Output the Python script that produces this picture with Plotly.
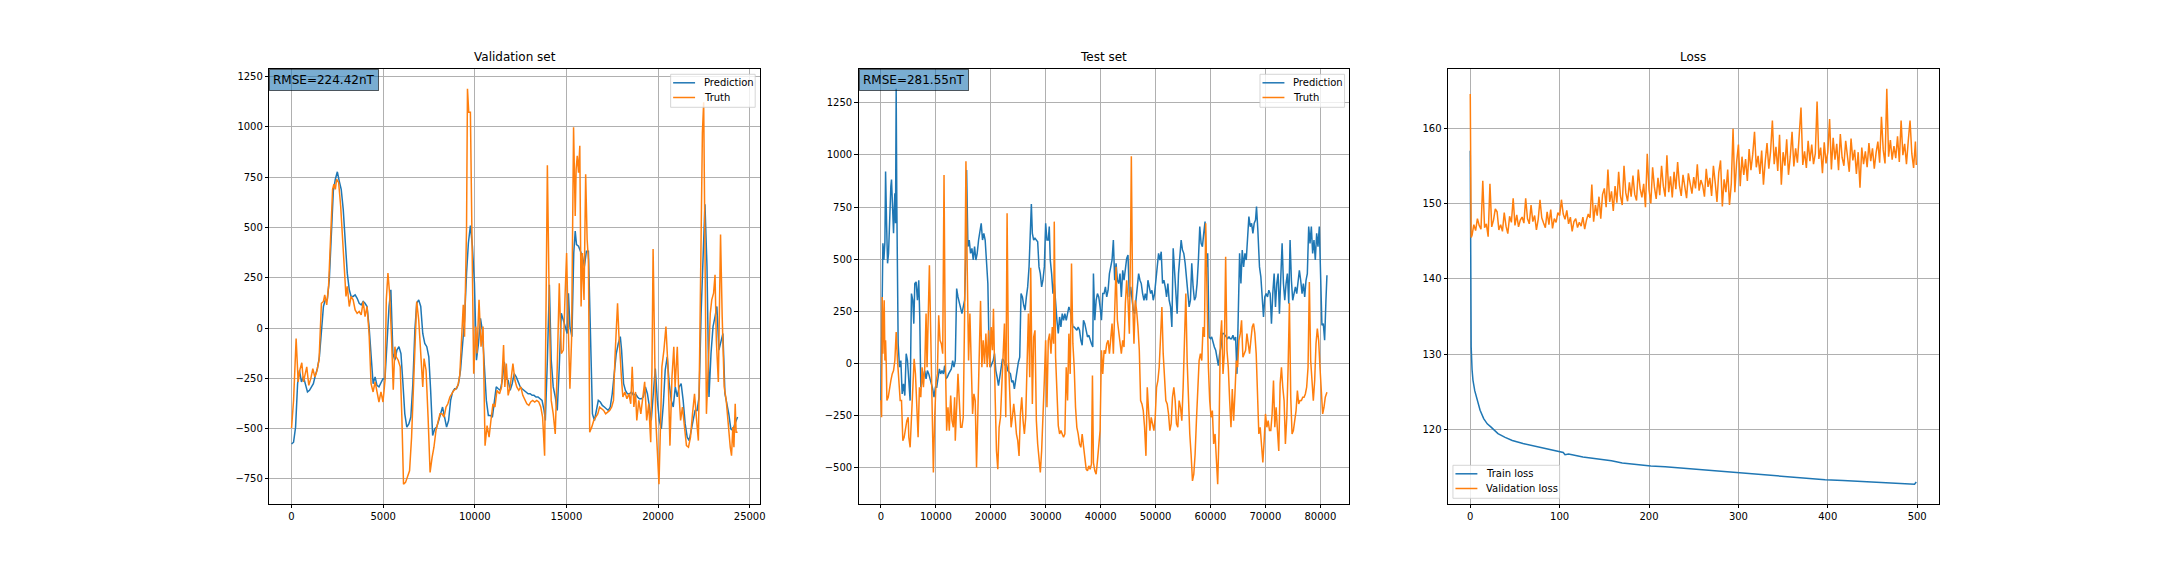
import plotly.graph_objects as go

# Validation set, (sample index, nT)
val_pred = [
    (0, -577), (110, -568), (220, -493), (330, -277), (430, -210), (540, -268), (650, -243), (760, -277), (870, -318), (980, -310),
    (1080, -293), (1190, -277), (1300, -235), (1410, -202), (1520, -143), (1630, -10), (1740, 107), (1840, 140), (1950, 140), (2060, 240),
    (2170, 507), (2280, 682), (2390, 740), (2500, 777), (2600, 732), (2710, 690), (2820, 590), (2930, 440), (3040, 273), (3150, 190),
    (3250, 157), (3360, 157), (3470, 165), (3580, 148), (3690, 123), (3800, 115), (3910, 132), (4010, 123), (4120, 107), (4230, 7),
    (4340, -160), (4450, -277), (4560, -243), (4660, -285), (4770, -293), (4880, -268), (4990, -252), (5100, -252), (5210, -43), (5320, 107),
    (5420, 190), (5530, -127), (5640, -160), (5750, -110), (5860, -93), (5970, -127), (6080, -277), (6180, -427), (6290, -493), (6400, -477),
    (6510, -443), (6620, -277), (6730, -10), (6830, 123), (6940, 140), (7050, 107), (7160, -27), (7270, -77), (7380, -93), (7490, -143),
    (7590, -310), (7700, -535), (7810, -502), (7920, -493), (8030, -460), (8140, -427), (8240, -393), (8350, -443), (8460, -493), (8570, -460),
    (8680, -360), (8790, -318), (8900, -302), (9000, -302), (9110, -277), (9220, -210), (9330, -60), (9440, 40), (9550, 273), (9650, 423),
    (9760, 510), (9870, 407), (9980, 223), (10090, -160), (10200, -77), (10310, 48), (10410, -10), (10520, -193), (10630, -360), (10740, -435),
    (10850, -435), (10960, -443), (11060, -377), (11170, -293), (11280, -302), (11390, -310), (11500, -260), (11610, -168), (11720, -252), (11820, -260),
    (11930, -310), (12040, -277), (12150, -227), (12260, -243), (12370, -268), (12480, -293), (12580, -302), (12690, -310), (12800, -318), (12910, -327),
    (13020, -327), (13130, -335), (13230, -335), (13340, -343), (13450, -343), (13560, -352), (13670, -360), (13780, -410), (13850, -460), (13960, -160),
    (14070, 215), (14170, -160), (14280, -293), (14390, -343), (14500, -410), (14610, -193), (14720, 73), (14830, 40), (14930, 7), (15040, -27),
    (15110, 173), (15190, 7), (15300, -43), (15400, 373), (15480, 482), (15550, 415), (15660, 407), (15770, 382), (15870, 357), (15980, 307),
    (16090, 382), (16200, 382), (16310, -10), (16420, -427), (16530, -460), (16630, -410), (16740, -360), (16850, -368), (16960, -385), (17070, -393),
    (17180, -402), (17280, -410), (17390, -393), (17500, -327), (17610, -227), (17720, -127), (17830, -77), (17940, -43), (18010, -110), (18120, -277),
    (18220, -310), (18330, -327), (18440, -327), (18550, -318), (18660, -335), (18770, -327), (18880, -343), (18980, -352), (19090, -352), (19200, -343),
    (19310, -293), (19420, -327), (19530, -393), (19630, -460), (19740, -327), (19850, -202), (19960, -360), (20070, -460), (20180, -502), (20290, -377),
    (20390, -210), (20500, -143), (20610, -277), (20720, -360), (20830, -393), (20940, -293), (21050, -343), (21150, -293), (21260, -277), (21370, -360),
    (21480, -477), (21590, -543), (21700, -560), (21800, -510), (21910, -460), (22020, -410), (22130, -410), (22240, -343), (22350, 73), (22460, 373),
    (22560, 615), (22670, 307), (22780, -343), (22890, -127), (23000, 7), (23110, 57), (23210, 107), (23320, -110), (23430, -60), (23540, -27),
    (23650, -327), (23760, -377), (23860, -427), (23970, -502), (24080, -510), (24190, -477), (24340, -443),
]
val_truth = [
    (0, -497), (110, -360), (250, -52), (360, -268), (450, -210), (560, -173), (650, -268), (720, -243), (830, -193), (940, -285),
    (1050, -252), (1160, -202), (1270, -243), (1370, -218), (1500, -160), (1630, 123), (1740, 132), (1810, 165), (1920, 115), (2020, 207),
    (2130, 490), (2240, 690), (2310, 715), (2390, 690), (2460, 740), (2570, 723), (2680, 607), (2780, 440), (2890, 273), (2970, 157),
    (3040, 207), (3150, 107), (3250, 157), (3360, 140), (3470, 90), (3580, 73), (3690, 82), (3800, 65), (3910, 132), (4010, 57),
    (4120, 107), (4230, -27), (4340, -277), (4450, -318), (4560, -268), (4660, -310), (4770, -368), (4880, -318), (4990, -368), (5100, -260),
    (5170, 140), (5260, 273), (5350, 173), (5460, -60), (5550, -307), (5640, -93), (5710, -143), (5820, -160), (5930, -193), (6020, -443),
    (6110, -777), (6220, -768), (6330, -743), (6440, -710), (6550, -543), (6650, -277), (6760, 40), (6830, 132), (6940, 40), (7050, -143),
    (7160, -293), (7230, -152), (7340, -210), (7450, -443), (7560, -718), (7670, -643), (7770, -593), (7880, -510), (7990, -460), (8100, -427),
    (8210, -427), (8320, -443), (8430, -393), (8530, -377), (8640, -343), (8750, -327), (8860, -310), (8970, -302), (9080, -285), (9180, -235),
    (9290, -60), (9370, 115), (9440, -43), (9550, 507), (9600, 1190), (9670, 1073), (9760, 1073), (9850, 373), (9940, -227), (10050, 7),
    (10120, -127), (10230, 140), (10340, -93), (10450, 7), (10560, -585), (10670, -485), (10780, -543), (10880, -460), (10990, -377), (11100, -393),
    (11210, -310), (11350, -327), (11460, -293), (11570, -85), (11640, -293), (11720, -177), (11820, -335), (11930, -293), (12080, -177), (12190, -260),
    (12290, -293), (12400, -310), (12510, -293), (12620, -335), (12730, -360), (12840, -377), (12950, -385), (13050, -368), (13160, -360), (13270, -368),
    (13380, -360), (13490, -368), (13600, -393), (13700, -443), (13810, -635), (13890, 140), (13960, 810), (14070, 73), (14170, -360), (14280, -427),
    (14390, -527), (14500, -193), (14610, 223), (14720, -127), (14830, -110), (14930, 173), (15010, 373), (15080, 73), (15190, -302), (15280, -60),
    (15330, 673), (15390, 998), (15480, 557), (15530, 790), (15590, 857), (15660, 773), (15730, 907), (15800, 107), (15870, 373), (15960, 140),
    (16050, 765), (16130, 440), (16200, 340), (16270, -518), (16380, -493), (16490, -460), (16600, -443), (16710, -427), (16810, -393), (16920, -402),
    (17030, -410), (17140, -427), (17250, -418), (17360, -410), (17470, -393), (17570, -360), (17650, -143), (17720, 23), (17790, 123), (17860, -27),
    (17940, -193), (18010, -260), (18080, -343), (18190, -318), (18300, -352), (18410, -327), (18510, -377), (18590, -193), (18680, -393), (18770, -318),
    (18840, -460), (18950, -360), (19060, -427), (19160, -360), (19270, -268), (19380, -460), (19490, -377), (19600, -568), (19670, -193), (19730, 393),
    (19800, -27), (19870, -443), (19960, -610), (20050, -777), (20140, -460), (20210, -193), (20320, -110), (20430, 7), (20540, -193), (20650, -585),
    (20760, -243), (20860, -93), (20930, -293), (21050, -93), (21120, -293), (21230, -460), (21330, -393), (21440, -493), (21550, -585), (21660, -593),
    (21770, -543), (21880, -427), (21990, -327), (22090, -443), (22200, -560), (22270, -127), (22350, 473), (22420, 973), (22490, 1123), (22560, 473),
    (22640, -427), (22740, -193), (22850, 73), (22930, 140), (23030, 173), (23110, 265), (23180, -60), (23290, -268), (23340, -27), (23410, 465),
    (23500, 57), (23610, -293), (23720, -360), (23830, -493), (23940, -593), (24010, -635), (24080, -493), (24140, -593), (24210, -377), (24260, -518),
    (24340, -518),
]

# Test set, (sample index, nT)
test_pred = [
    (0, -178), (120, -2), (240, 319), (360, 576), (540, 496), (730, 584), (850, 920), (1030, 672), (1210, 480), (1390, 528),
    (1570, 720), (1690, 752), (1810, 850), (1930, 882), (2120, 752), (2300, 624), (2420, 736), (2540, 816), (2660, 672), (2780, 1317),
    (2900, 752), (3020, 144), (3140, 96), (3390, -18), (3630, 14), (3870, -146), (4110, -98), (4350, -154), (4600, 47), (4840, 14),
    (5080, -98), (5320, -178), (5560, 335), (5800, 303), (5990, 191), (6170, 383), (6410, 391), (6650, 303), (6890, 399), (7070, 223),
    (7260, -114), (7500, -82), (7740, -58), (7980, -34), (8220, -74), (8460, -34), (8710, -50), (8950, -74), (9190, -90), (9430, -122),
    (9670, -162), (9920, -114), (10160, -114), (10400, -66), (10640, -26), (10880, -50), (11120, -34), (11370, -50), (11610, -10), (11850, -74),
    (12090, -66), (12330, -50), (12580, -34), (12820, -26), (13060, 14), (13300, -18), (13540, 14), (13790, 359), (14030, 319), (14270, 287),
    (14510, 271), (14750, 239), (14990, 271), (15240, 303), (15480, 528), (15600, 928), (15840, 560), (16080, 592), (16320, 528), (16570, 552),
    (16810, 496), (17050, 560), (17290, 496), (17530, 528), (17780, 592), (18020, 640), (18260, 672), (18500, 592), (18740, 624), (18980, 592),
    (19230, 496), (19470, 383), (19710, 47), (19950, -18), (20190, -2), (20440, 14), (20680, 47), (20920, -34), (21160, -66), (21400, -106),
    (21640, -66), (21890, -18), (22130, 22), (22370, 14), (22610, -10), (22850, -2), (23100, -34), (23340, -42), (23580, -50), (23820, -90),
    (24060, -82), (24300, -122), (24550, -66), (24790, -34), (25030, 6), (25270, 30), (25510, 335), (25760, 319), (26000, 279), (26240, 255),
    (26480, 319), (26720, 367), (26970, 463), (27210, 704), (27390, 765), (27570, 624), (27810, 592), (28050, 600), (28300, 592), (28540, 584),
    (28780, 463), (29020, 431), (29260, 367), (29500, 399), (29750, 463), (29990, 672), (30230, 592), (30470, 592), (30650, 656), (30830, 496),
    (31080, 431), (31320, 335), (31560, 383), (31800, 271), (32040, 207), (32290, 144), (32530, 223), (32770, 175), (33010, 239), (33250, 207),
    (33490, 239), (33740, 207), (33980, 239), (34220, 271), (34460, 255), (34700, 207), (34950, 175), (35190, 175), (35430, 167), (35670, 159),
    (35910, 175), (36160, 159), (36400, 111), (36640, 87), (36880, 207), (37120, 191), (37370, 159), (37610, 127), (37850, 135), (38090, 111),
    (38330, 95), (38570, 79), (38690, 431), (38940, 207), (39180, 303), (39420, 335), (39660, 319), (39900, 271), (40150, 207), (40390, 335),
    (40630, 335), (40870, 367), (41110, 319), (41360, 351), (41600, 431), (41840, 463), (42080, 496), (42320, 592), (42560, 399), (42810, 480),
    (43050, 399), (43290, 383), (43530, 431), (43770, 319), (44020, 447), (44260, 399), (44500, 463), (44740, 504), (44980, 520), (45230, 319),
    (45470, 367), (45710, 303), (45950, 255), (46190, 239), (46430, 303), (46680, 399), (46920, 431), (47160, 399), (47400, 383), (47640, 335),
    (47890, 303), (48130, 335), (48370, 303), (48610, 399), (48850, 367), (49100, 335), (49340, 351), (49580, 303), (49820, 335), (50060, 399),
    (50310, 431), (50550, 528), (50790, 496), (51030, 536), (51270, 383), (51520, 399), (51760, 367), (52000, 319), (52240, 383), (52480, 303),
    (52730, 271), (52970, 175), (53210, 552), (53450, 431), (53690, 303), (53930, 239), (54180, 431), (54420, 496), (54660, 592), (54900, 544),
    (55140, 528), (55390, 480), (55630, 399), (55870, 319), (56110, 271), (56350, 303), (56590, 480), (56840, 367), (57080, 303), (57320, 319),
    (57560, 383), (57800, 496), (58050, 656), (58290, 576), (58530, 560), (58770, 624), (59010, 680), (59250, 463), (59490, 528), (59740, 127),
    (59980, 119), (60220, 127), (60460, 95), (60700, 79), (60950, 63), (61190, 30), (61430, -10), (61670, 47), (61910, 79), (62160, 144),
    (62400, 144), (62640, 135), (62880, 127), (63120, 119), (63370, 127), (63610, 119), (63850, 119), (64090, 135), (64330, 111), (64570, 127),
    (64820, -50), (65060, 303), (65300, 528), (65540, 383), (65780, 544), (66030, 463), (66270, 528), (66510, 496), (66750, 624), (66990, 704),
    (67240, 656), (67480, 672), (67720, 624), (67960, 672), (68200, 688), (68380, 752), (68620, 640), (68920, 463), (69170, 415), (69410, 335),
    (69650, 223), (69890, 319), (70130, 335), (70380, 319), (70620, 351), (70860, 335), (71100, 191), (71340, 335), (71590, 431), (71830, 271),
    (72070, 383), (72310, 431), (72550, 239), (72800, 415), (73040, 576), (73280, 383), (73520, 303), (73760, 383), (74000, 431), (74250, 287),
    (74490, 592), (74730, 399), (74970, 303), (75210, 335), (75460, 367), (75700, 335), (75940, 399), (76180, 447), (76420, 399), (76670, 335),
    (76910, 383), (77150, 319), (77390, 399), (77630, 431), (77880, 656), (78120, 576), (78360, 656), (78600, 528), (78840, 592), (79080, 496),
    (79330, 624), (79570, 560), (79810, 656), (80050, 335), (80290, 183), (80540, 191), (80780, 111), (81020, 303), (81200, 423),
]
test_truth = [
    (0, -178), (120, -258), (240, 319), (360, 47), (480, 175), (600, 303), (730, 14), (850, 111), (970, -2), (1090, -178),
    (1330, -162), (1570, -114), (1810, -82), (2060, -50), (2300, -34), (2540, 14), (2780, 151), (3020, 14), (3260, -114), (3510, -178),
    (3750, -178), (3990, -370), (4230, -354), (4470, -306), (4720, -274), (4960, -258), (5080, -354), (5320, -402), (5560, -242), (5800, -82),
    (6050, 22), (6290, -50), (6530, -178), (6770, -354), (7010, -114), (7260, -162), (7500, -18), (7740, -114), (7980, -18), (8220, 239),
    (8400, -18), (8650, 231), (8830, 471), (9070, 143), (9310, -242), (9550, -523), (9790, -258), (10040, -90), (10280, -50), (10520, 231),
    (10760, 111), (11000, 95), (11250, 47), (11490, 904), (11730, 30), (11970, -322), (12210, -210), (12450, -322), (12700, -154), (12940, -274),
    (13180, -306), (13420, -162), (13540, -370), (13790, -194), (14030, -50), (14270, -178), (14510, -306), (14750, -306), (14990, -258), (15240, 239),
    (15480, 969), (15720, 447), (15960, 14), (16200, 239), (16450, -2), (16690, -242), (16930, -146), (17170, -178), (17410, -499), (17660, -210),
    (17900, 14), (18140, 300), (18380, -18), (18620, 111), (18860, -2), (19110, 143), (19350, -18), (19590, 159), (19830, -18), (20070, 175),
    (20310, 63), (20490, 262), (20800, -162), (21040, -419), (21280, -507), (21520, -306), (21770, -258), (22010, -98), (22250, 14), (22490, 191),
    (22730, -258), (22970, 720), (23220, 14), (23460, -178), (23700, -306), (23940, -258), (24180, -194), (24430, -258), (24670, -338), (24910, -370),
    (25150, -443), (25390, -242), (25640, -162), (25880, -274), (26120, -338), (26360, -258), (26600, -18), (26850, 239), (27090, -66), (27270, 459),
    (27570, -194), (27810, 127), (28050, 159), (28300, -274), (28540, -386), (28780, -467), (29020, -523), (29260, -419), (29500, -194), (29750, -82),
    (29990, 111), (30230, -210), (30470, 111), (30710, 143), (30960, 47), (31200, 175), (31440, 95), (31560, 680), (31800, 30), (32040, -114),
    (32290, -298), (32530, -338), (32770, -322), (33010, -338), (33250, -354), (33490, -338), (33740, -18), (33980, -178), (34220, 143), (34460, -50),
    (34700, 479), (34950, 95), (35190, -18), (35430, -210), (35670, -306), (35910, -338), (36160, -386), (36400, -402), (36640, -338), (36880, -395),
    (37120, -467), (37370, -507), (37610, -515), (37850, -491), (38090, -507), (38330, -483), (38510, -58), (38690, -475), (38940, -515), (39180, -531),
    (39420, -467), (39660, -370), (39900, -322), (40150, 63), (40390, -50), (40630, 63), (40870, 47), (41110, 95), (41360, 111), (41600, 47),
    (41840, 127), (42080, 191), (42320, 47), (42560, 319), (42810, 463), (43050, 207), (43290, 143), (43530, 111), (43770, 47), (44020, 111),
    (44260, 79), (44500, 287), (44740, 399), (44980, 303), (45230, 143), (45470, 624), (45590, 993), (45830, 303), (46070, 95), (46310, 303),
    (46550, 255), (46800, 175), (47040, 63), (47280, -178), (47520, -194), (47760, -226), (48000, -306), (48250, -443), (48490, -114), (48730, -226),
    (48970, -322), (49210, -258), (49450, -290), (49700, -322), (49940, -258), (50180, -114), (50420, -82), (50660, -18), (50910, 127), (51150, 271),
    (51390, 47), (51630, -50), (51870, -178), (52120, -194), (52360, -242), (52600, -322), (52840, -290), (53080, -162), (53330, -114), (53570, -178),
    (53810, -290), (54050, -306), (54290, -178), (54540, -210), (54780, -274), (55020, -114), (55260, 175), (55510, 335), (55750, 14), (55990, -210),
    (56230, -338), (56470, -435), (56720, -563), (56960, -531), (57200, -435), (57440, -274), (57680, -162), (57930, 14), (58170, 47), (58410, 14),
    (58650, 175), (58890, 127), (59130, 672), (59380, 303), (59620, -18), (59860, -178), (60100, -258), (60340, -226), (60580, -386), (60830, -338),
    (61070, -435), (61310, -579), (61550, -338), (61790, 111), (62030, 207), (62280, -50), (62520, 47), (62760, 512), (63000, 63), (63240, -18),
    (63490, -178), (63730, -306), (63970, -122), (64210, -274), (64450, -146), (64700, 14), (64940, -18), (65180, 111), (65420, 143), (65660, 207),
    (65900, 30), (66140, 47), (66390, 63), (66630, 143), (66870, 79), (67110, 47), (67350, 111), (67600, 175), (67840, 191), (68080, 143),
    (68320, 47), (68560, -178), (68800, -338), (69050, -306), (69290, -386), (69530, -475), (69770, -370), (70010, -242), (70260, -306), (70500, -274),
    (70740, -322), (70980, -322), (71220, -242), (71470, -82), (71710, -306), (71950, -210), (72190, -322), (72430, -419), (72680, -98), (72920, -18),
    (73160, -114), (73400, -178), (73640, -386), (73890, -258), (74130, -18), (74370, 290), (74610, -162), (74850, -338), (75090, -322), (75340, -274),
    (75580, -226), (75820, -130), (76060, -194), (76300, -178), (76550, -178), (76790, -162), (77030, -162), (77270, -146), (77510, -114), (77760, -18),
    (78000, 390), (78240, 14), (78480, -114), (78720, -178), (78970, -82), (79210, 95), (79450, 167), (79690, 111), (79930, -18), (80180, -114),
    (80420, -242), (80660, -210), (80900, -162), (81200, -138),
]

# Loss curves
train_loss = [
    (0, 157.0), (1, 131.0), (2, 128.0), (3, 126.6), (5, 125.2), (7, 124.3), (9, 123.2), (11, 122.6), (15, 121.5), (19, 120.8),
    (23, 120.4), (27, 120.0), (31, 119.5), (39, 119.0), (47, 118.6), (59, 118.2), (71, 117.9), (83, 117.6), (98, 117.2), (104, 117.0),
    (106, 116.7), (110, 116.8), (126, 116.4), (142, 116.2), (158, 115.9), (170, 115.6), (186, 115.4), (202, 115.2), (218, 115.1), (238, 114.9),
    (258, 114.7), (278, 114.5), (298, 114.3), (318, 114.1), (337, 114.0), (357, 113.8), (377, 113.6), (397, 113.4), (417, 113.3), (437, 113.2),
    (457, 113.1), (477, 113.0), (497, 112.8), (499, 113.1),
]
val_loss_head = [164.5, 145.5]
val_loss_even = [
    145.8, 147.2, 146.4, 148.0, 147.1, 146.6, 153.0, 146.8, 147.3, 145.6,
    152.6, 146.9, 147.8, 149.3, 148.9, 146.5, 147.2, 146.3, 148.8, 147.0,
    146.0, 148.3, 147.5, 150.7, 147.1, 148.5, 146.9, 147.8, 148.2, 147.4,
    150.7, 148.0, 147.3, 149.8, 147.6, 148.4, 146.5, 147.9, 150.5, 148.1,
    147.4, 146.8, 148.9, 147.2, 149.2, 146.7, 148.0, 147.5, 148.8, 148.4,
    150.5, 148.6, 147.9, 149.1, 147.3, 148.2, 146.3, 147.6, 148.0, 146.8,
    147.5, 147.0, 148.2, 146.6, 147.8, 148.6, 148.1, 152.5, 147.6, 149.8,
    148.4, 150.9, 148.0, 151.2, 152.0, 149.5, 154.5, 150.2, 151.6, 149.0,
    152.3, 150.1, 154.2, 151.0, 149.8, 155.0, 151.4, 150.3, 152.8, 150.9,
    153.7, 151.2, 150.4, 154.5, 152.0, 150.8, 152.6, 149.5, 156.6, 151.8,
    150.0, 154.8, 152.2, 150.6, 153.4, 151.1, 155.0, 152.3, 150.9, 156.4,
    151.5, 153.6, 150.8, 154.2, 151.9, 155.5, 152.4, 151.0, 153.8, 152.5,
    150.7, 154.0, 152.8, 151.3, 153.5, 152.0, 155.2, 151.7, 153.1, 152.4,
    150.9, 154.6, 152.2, 153.4, 151.0, 155.0, 152.8, 150.2, 154.1, 155.7,
    149.6, 153.2, 151.5, 154.5, 149.8, 152.6, 159.9, 151.5, 155.5, 157.8,
    152.3, 156.2, 153.8, 155.9, 153.0, 157.2, 154.4, 156.5, 159.5, 154.8,
    156.3, 153.9, 157.0, 152.5, 155.6, 158.0, 154.6, 156.9, 161.0, 155.2,
    157.5, 154.3, 159.1, 152.5, 156.8, 155.0, 158.5, 153.8, 156.2, 159.5,
    154.9, 157.3, 155.4, 158.8, 162.7, 155.1, 156.9, 154.7, 158.3, 155.6,
    157.8, 155.2, 156.6, 163.5, 155.9, 157.4, 154.0, 158.1, 155.3, 156.8,
    161.2, 154.5, 158.7, 155.8, 157.9, 154.4, 159.2, 156.1, 155.0, 158.3,
    156.4, 154.2, 158.6, 155.7, 157.1, 153.9, 156.8, 152.1, 157.4, 155.2,
    156.9, 154.8, 158.0, 155.6, 157.3, 154.6, 156.7, 158.2, 155.4, 161.5,
    157.1, 155.3, 165.2, 156.2, 158.4, 155.8, 157.6, 156.0, 158.9, 155.5,
    161.0, 156.4, 157.9, 155.2, 158.3, 161.0, 156.6, 154.7, 158.2,
]
val_loss_last = 155.1

val_loss = val_loss_head + val_loss_even + [val_loss_last]
val_loss_epochs = [0, 1] + list(range(2, 500, 2)) + [499]

BLUE = "#1f77b4"
ORANGE = "#ff7f0e"
FONT = "DejaVu Sans"

W, H = 2160, 576
# axes boxes in pixels (left, right), shared top/bottom
boxes = [(270, 762), (861, 1353), (1452, 1944)]
top_px, bot_px = 69, 504


def unzip(pairs):
    return [p[0] for p in pairs], [p[1] for p in pairs]


def padded(vals):
    lo, hi = min(vals), max(vals)
    m = (hi - lo) * 0.05
    return [lo - m, hi + m]


def px_x(v):
    return v / W


def px_y(v):
    return 1 - v / H


def legend_box(left, top, width, entries):
    # matplotlib-like legend: framed box, short line handle, label
    shapes = [dict(type="rect", xref="paper", yref="paper", layer="above",
                   x0=px_x(left), x1=px_x(left + width), y0=px_y(top), y1=px_y(top + 33),
                   fillcolor="rgba(255,255,255,0.8)", line=dict(color="#cccccc", width=0.8))]
    notes = []
    for k, (label, color) in enumerate(entries):
        row = top + 8.5 + k * 14.7
        shapes.append(dict(type="line", xref="paper", yref="paper", layer="above",
                           x0=px_x(left + 2.5), x1=px_x(left + 24.5), y0=px_y(row), y1=px_y(row),
                           line=dict(color=color, width=1.5)))
        notes.append(dict(text=label, x=px_x(left + 31.5), y=px_y(row), xref="paper", yref="paper",
                          xanchor="left", yanchor="middle", showarrow=False,
                          font=dict(family=FONT, size=10, color="black")))
    return shapes, notes


fig = go.Figure()

vx, vy = unzip(val_pred)
tx, ty = unzip(val_truth)
fig.add_trace(go.Scatter(x=vx, y=vy, mode="lines", name="Prediction",
                         line=dict(color=BLUE, width=1.5), xaxis="x", yaxis="y"))
fig.add_trace(go.Scatter(x=tx, y=ty, mode="lines", name="Truth",
                         line=dict(color=ORANGE, width=1.5), xaxis="x", yaxis="y"))

px2, py2 = unzip(test_pred)
qx2, qy2 = unzip(test_truth)
fig.add_trace(go.Scatter(x=px2, y=py2, mode="lines", name="Prediction",
                         line=dict(color=BLUE, width=1.5), xaxis="x2", yaxis="y2"))
fig.add_trace(go.Scatter(x=qx2, y=qy2, mode="lines", name="Truth",
                         line=dict(color=ORANGE, width=1.5), xaxis="x2", yaxis="y2"))

lx, ly = unzip(train_loss)
fig.add_trace(go.Scatter(x=lx, y=ly, mode="lines", name="Train loss",
                         line=dict(color=BLUE, width=1.5), xaxis="x3", yaxis="y3"))
fig.add_trace(go.Scatter(x=val_loss_epochs, y=val_loss, mode="lines", name="Validation loss",
                         line=dict(color=ORANGE, width=1.5), xaxis="x3", yaxis="y3"))

ydom = [1 - bot_px / H, 1 - top_px / H]
xranges = [padded(vx + tx), padded(px2 + qx2), padded(lx + val_loss_epochs)]
yranges = [padded(vy + ty), padded(py2 + qy2), padded(ly + val_loss)]
dticks = [(5000, 250), (10000, 250), (100, 10)]

axis_common = dict(
    showline=True, linecolor="black", linewidth=0.8, mirror=True,
    ticks="outside", ticklen=3.5, tickwidth=0.8, tickcolor="black",
    showgrid=True, gridcolor="#b0b0b0", gridwidth=0.8, zeroline=False,
    tickfont=dict(family=FONT, size=10, color="black"), tickformat="d",
)

layout = dict(
    width=W, height=H, margin=dict(l=0, r=0, t=0, b=0),
    paper_bgcolor="white", plot_bgcolor="white", showlegend=False,
    font=dict(family=FONT, size=10, color="black"),
)
for i, (l, r) in enumerate(boxes):
    sfx = "" if i == 0 else str(i + 1)
    layout["xaxis" + sfx] = dict(axis_common, domain=[l / W, r / W], range=xranges[i],
                                 dtick=dticks[i][0], tick0=0, anchor="y" + sfx)
    layout["yaxis" + sfx] = dict(axis_common, domain=ydom, range=yranges[i],
                                 dtick=dticks[i][1], tick0=0, anchor="x" + sfx)

shapes = []
annotations = []
pred_truth = [("Prediction", BLUE), ("Truth", ORANGE)]
for l, r in boxes[:2]:
    s, n = legend_box(r - 89.5, top_px + 5.3, 84.8, pred_truth)
    shapes += s
    annotations += n
s, n = legend_box(boxes[2][0] + 5, bot_px - 5.7 - 33, 107, [("Train loss", BLUE), ("Validation loss", ORANGE)])
shapes += s
annotations += n

titles = ["Validation set", "Test set", "Loss"]
for (l, r), t in zip(boxes, titles):
    annotations.append(dict(text=t, x=(l + r) / 2 / W, y=ydom[1], xref="paper", yref="paper",
                            xanchor="center", yanchor="bottom", yshift=3, showarrow=False,
                            font=dict(family=FONT, size=12, color="black")))

rmse_texts = ["RMSE=224.42nT", "RMSE=281.55nT"]
for (l, r), t in zip(boxes[:2], rmse_texts):
    annotations.append(dict(text=t, x=l / W, y=ydom[1], xref="paper", yref="paper",
                            xanchor="left", yanchor="top", showarrow=False,
                            bgcolor="rgba(31,119,180,0.6)", bordercolor="rgba(0,0,0,0.6)",
                            borderwidth=1, borderpad=3,
                            font=dict(family=FONT, size=12, color="black")))
layout["shapes"] = shapes
layout["annotations"] = annotations

fig.update_layout(layout)
# drop the default page margin so the figure sits at the window origin
fig.write_html("out.html", config={"displayModeBar": False},
               post_script="document.body.style.margin='0';")
